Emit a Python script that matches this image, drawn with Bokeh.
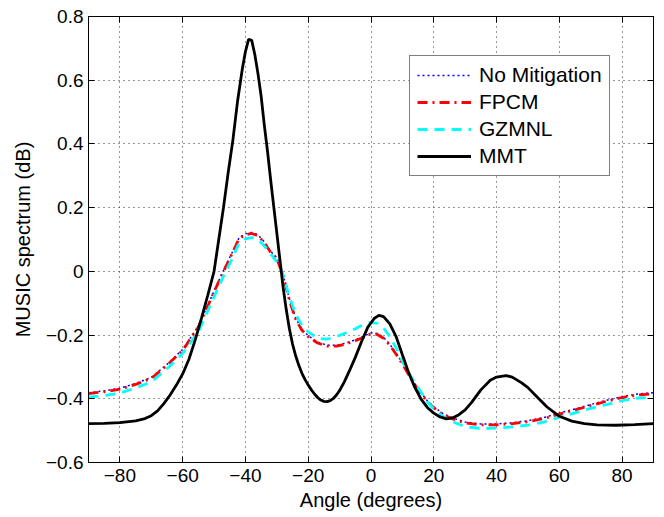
from bokeh.plotting import figure
from bokeh.models import Range1d, FixedTicker, Legend, LegendItem, LinearAxis
from bokeh.embed import file_html
from bokeh.resources import INLINE

# ---- data ----
mmt_angle = [-90, -85, -80, -75, -72, -70, -68, -66, -64, -62, -60, -58, -56, -54, -52,
             -50, -48.5, -47, -45.5, -44, -42.5, -41, -40, -39, -38, -37, -36, -35, -34,
             -33, -32, -31, -30, -29, -28, -27, -26, -25, -24, -23, -22, -21, -20,
             -19, -18, -17, -16, -15, -14, -13, -12, -11, -10, -8.5, -7, -5, -3, -1,
             1, 2.5, 4, 6, 8, 10, 12, 14, 16, 18, 20, 22, 24,
             26, 28, 30, 32, 35, 38, 40, 43, 45, 48, 50, 53, 56, 60, 64, 68, 72, 78,
             84, 90]
mmt_val = [-0.478, -0.477, -0.475, -0.469, -0.462, -0.453, -0.438, -0.415, -0.388,
           -0.357, -0.322, -0.276, -0.215, -0.147, -0.075,
           0.000, 0.100, 0.200, 0.310, 0.412, 0.535, 0.635, 0.690, 0.728, 0.725, 0.680,
           0.620, 0.550, 0.460,
           0.380, 0.290, 0.205, 0.120, 0.035, -0.050, -0.120, -0.180, -0.228, -0.265,
           -0.295, -0.320, -0.340, -0.357, -0.372, -0.385, -0.396, -0.404, -0.408,
           -0.409, -0.406, -0.399, -0.388, -0.374, -0.347, -0.315, -0.270, -0.220,
           -0.175, -0.148, -0.138, -0.142,
           -0.165, -0.205, -0.262, -0.318, -0.365, -0.402, -0.428, -0.445, -0.457,
           -0.463, -0.460, -0.450, -0.435, -0.412, -0.372, -0.342, -0.332, -0.327,
           -0.332, -0.350, -0.365, -0.395, -0.425, -0.455, -0.470, -0.478, -0.482,
           -0.483, -0.481, -0.478]

angle = [-90, -85, -80, -75, -70, -65, -60, -55, -50, -47, -44, -42, -40, -38, -36,
         -34, -32, -30, -28, -26, -24, -22, -20, -17, -14, -11, -8, -5, -2, 0, 2, 4,
         6, 8, 10, 12, 15, 18, 20, 23, 26, 30, 35, 40, 45, 50, 55, 60, 65, 70, 75, 80,
         85, 90]
no_mitigation = [-0.381, -0.375, -0.367, -0.352, -0.333, -0.292, -0.245, -0.172,
                 -0.062, 0.003, 0.064, 0.106, 0.118, 0.122, 0.115, 0.093, 0.063,
                 0.043, -0.012, -0.087, -0.147, -0.182, -0.202, -0.222, -0.232,
                 -0.232, -0.225, -0.215, -0.202, -0.193, -0.195, -0.207, -0.229,
                 -0.257, -0.287, -0.322, -0.369, -0.407, -0.425, -0.447, -0.460,
                 -0.473, -0.479, -0.479, -0.475, -0.469, -0.459, -0.445, -0.432,
                 -0.418, -0.405, -0.393, -0.385, -0.381]
fpcm = [-0.384, -0.378, -0.370, -0.355, -0.336, -0.295, -0.248, -0.175, -0.065, 0.000,
        0.061, 0.103, 0.115, 0.119, 0.112, 0.090, 0.060, 0.040, -0.015, -0.090,
        -0.150, -0.185, -0.205, -0.225, -0.235, -0.235, -0.228, -0.218, -0.205,
        -0.196, -0.198, -0.210, -0.232, -0.260, -0.290, -0.325, -0.372, -0.410,
        -0.428, -0.450, -0.463, -0.476, -0.482, -0.482, -0.478, -0.472, -0.462,
        -0.448, -0.435, -0.421, -0.408, -0.396, -0.388, -0.384]
gzmnl = [-0.395, -0.390, -0.382, -0.366, -0.347, -0.306, -0.258, -0.190, -0.080,
         -0.015, 0.045, 0.090, 0.102, 0.106, 0.100, 0.080, 0.055, 0.030, -0.010,
         -0.080, -0.135, -0.170, -0.190, -0.210, -0.213, -0.205, -0.193, -0.180,
         -0.165, -0.160, -0.163, -0.178, -0.205, -0.240, -0.282, -0.320, -0.365,
         -0.410, -0.432, -0.456, -0.472, -0.488, -0.493, -0.492, -0.488, -0.483,
         -0.473, -0.458, -0.444, -0.430, -0.418, -0.406, -0.398, -0.395]

x_ticks = [-80, -60, -40, -20, 0, 20, 40, 60, 80]
x_tick_labels = ["\u221280", "\u221260", "\u221240", "\u221220", "0", "20", "40", "60", "80"]
y_ticks = [-0.6, -0.4, -0.2, 0, 0.2, 0.4, 0.6, 0.8]
y_tick_labels = ["\u22120.6", "\u22120.4", "\u22120.2", "0", "0.2", "0.4", "0.6", "0.8"]

FONT = "Liberation Sans"

p = figure(frame_width=565, frame_height=446, min_border_left=88, min_border_right=10,
           min_border_top=16, min_border_bottom=50,
           x_range=Range1d(-90, 90), y_range=Range1d(-0.6, 0.8),
           output_backend="svg", toolbar_location=None)
p.background_fill_color = "white"
p.border_fill_color = "white"
p.outline_line_color = "black"
p.outline_line_width = 1

p.xaxis.ticker = FixedTicker(ticks=x_ticks)
p.yaxis.ticker = FixedTicker(ticks=y_ticks)
p.xaxis.major_label_overrides = dict(zip(x_ticks, x_tick_labels))
p.yaxis.major_label_overrides = dict(zip(y_ticks, y_tick_labels))
for ax in (p.xaxis[0], p.yaxis[0]):
    ax.major_tick_in = 6
    ax.major_tick_out = 0
    ax.minor_tick_line_color = None
    ax.axis_line_color = "black"
    ax.major_tick_line_color = "black"
    ax.major_label_text_font = FONT
    ax.major_label_text_font_size = "19px"
    ax.major_label_text_color = "black"
    ax.axis_label_text_font = FONT
    ax.axis_label_text_font_size = "20px"
    ax.axis_label_text_font_style = "normal"
    ax.axis_label_text_color = "black"
p.xaxis.axis_label = "Angle (degrees)"
p.yaxis.axis_label = "MUSIC spectrum (dB)"
p.xaxis.major_label_standoff = 6
p.xaxis.axis_label_standoff = 4
p.yaxis.major_label_standoff = 5
p.yaxis.axis_label_standoff = 9

# inward ticks on the top and right edges (box on), without labels
top_ax = LinearAxis(ticker=FixedTicker(ticks=x_ticks), major_tick_in=6, major_tick_out=0,
                    minor_tick_line_color=None, major_label_text_color=None,
                    major_label_text_font_size="1px", axis_line_color="black",
                    major_label_standoff=0)
right_ax = LinearAxis(ticker=FixedTicker(ticks=y_ticks), major_tick_in=6, major_tick_out=0,
                      minor_tick_line_color=None, major_label_text_color=None,
                      major_label_text_font_size="1px", axis_line_color="black",
                      major_label_standoff=0)
p.add_layout(top_ax, "above")
p.add_layout(right_ax, "right")

for g in (p.xgrid[0], p.ygrid[0]):
    g.grid_line_color = "#333333"
    g.grid_line_dash = "1 4"
    g.grid_line_width = 1
p.xgrid.ticker = FixedTicker(ticks=x_ticks)
p.ygrid.ticker = FixedTicker(ticks=y_ticks)

r_nm = p.line(angle, no_mitigation, line_color="#0000ff", line_width=1.5, line_dash="2 3")
r_fp = p.line(angle, fpcm, line_color="#ff0000", line_width=2.8, line_dash="10 5 2 5")
r_gz = p.line(angle, gzmnl, line_color="#00ffff", line_width=2.8, line_dash="10 7")
r_mm = p.line(mmt_angle, mmt_val, line_color="black", line_width=2.8)

legend = Legend(items=[
    LegendItem(label="No Mitigation", renderers=[r_nm]),
    LegendItem(label="FPCM", renderers=[r_fp]),
    LegendItem(label="GZMNL", renderers=[r_gz]),
    LegendItem(label="MMT", renderers=[r_mm]),
], location=(321, 286))
legend.label_text_font = FONT
legend.label_text_font_size = "21px"
legend.label_text_color = "black"
legend.glyph_width = 54
legend.glyph_height = 20
legend.label_height = 20
legend.label_standoff = 8
legend.spacing = 3
legend.padding = 7
legend.margin = 0
legend.border_line_color = "black"
legend.border_line_width = 1
legend.background_fill_alpha = 1
p.add_layout(legend, "center")

open("out.html", "w").write(file_html(p, INLINE))
